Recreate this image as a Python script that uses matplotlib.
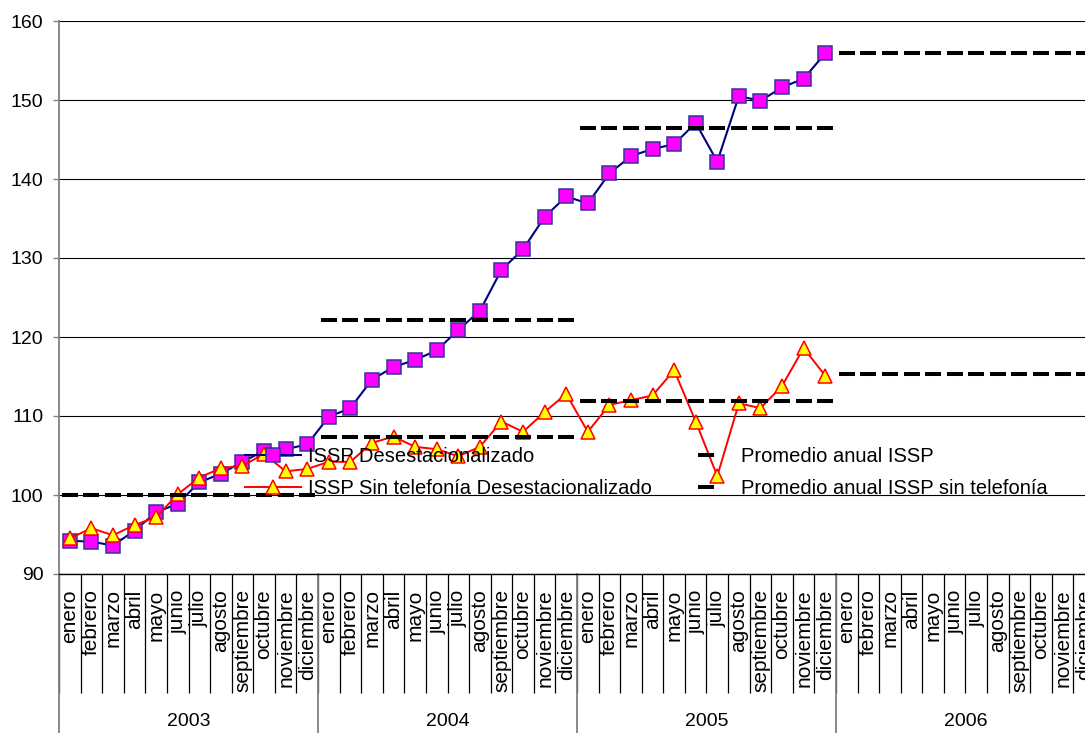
import matplotlib.pyplot as plt
import matplotlib.transforms as mtransforms
import numpy as np

plt.rcParams['font.family'] = ['Liberation Sans', 'DejaVu Sans']

years = ["2003", "2004", "2005", "2006"]
months = ["enero", "febrero", "marzo", "abril", "mayo", "junio", "julio",
          "agosto", "septiembre", "octubre", "noviembre", "diciembre"]

# monthly indices, ene-2003 .. dic-2005
issp = [94.2, 94.1, 93.6, 95.5, 97.8, 98.9, 101.6, 102.7, 104.2, 105.6, 105.8, 106.4,
        109.9, 111.0, 114.6, 116.2, 117.1, 118.3, 120.9, 123.3, 128.5, 131.1, 135.2, 137.8,
        136.9, 140.7, 142.9, 143.8, 144.4, 147.1, 142.2, 150.5, 149.9, 151.6, 152.7, 155.9]
issp_sin_tel = [94.5, 95.8, 94.9, 96.2, 97.2, 100.1, 102.2, 103.4, 103.7, 105.2, 103.0, 103.3,
                104.2, 104.2, 106.6, 107.4, 106.1, 105.8, 104.9, 106.1, 109.3, 108.0, 110.5, 112.8,
                108.0, 111.4, 112.0, 112.6, 115.8, 109.3, 102.4, 111.6, 111.0, 113.8, 118.6, 115.1]

# yearly averages, 2003 .. 2006
prom_issp = [100.0, 122.1, 146.5, 156.0]
prom_sin_tel = [100.0, 107.3, 111.9, 115.3]

n_months = len(years) * len(months)
x_all = np.arange(n_months)
x_data = np.arange(len(issp))

fig = plt.figure(figsize=(10.85, 7.33), dpi=100, facecolor="white")
W, H = 1085, 733
ax = fig.add_axes([59 / W, 159 / H, 1036 / W, 553 / H])

ax.plot(x_data, issp, color="#000080", lw=1.5, marker="s", ms=9.6,
        mfc="#FF00FF", mec="#333399", mew=1.1, zorder=3,
        label="ISSP Desestacionalizado")
ax.plot(x_data, issp_sin_tel, color="#FF0000", lw=1.4, marker="^", ms=10,
        mfc="#FFFF00", mec="#FF0000", mew=1.1, zorder=4,
        label="ISSP Sin telefonía Desestacionalizado")
ax.plot(x_all, np.repeat(prom_issp, 12), ls="none", marker="_", ms=11.5,
        mew=2.9, color="black", zorder=5, label="Promedio anual ISSP")
ax.plot(x_all, np.repeat(prom_sin_tel, 12), ls="none", marker="_", ms=11.5,
        mew=2.9, color="black", zorder=5, label="Promedio anual ISSP sin telefonía")

ax.set_xlim(-0.5, n_months - 0.5)
ax.set_ylim(90, 160)
ax.set_yticks(range(90, 161, 10))
ax.yaxis.grid(True, color="black", lw=0.8)
ax.set_axisbelow(True)
ax.tick_params(axis="y", direction="out", length=4.3, width=1, color="#808080",
               pad=7, labelsize=14)

for s in ["top", "right"]:
    ax.spines[s].set_visible(False)
ax.spines["left"].set_color("#808080")
ax.spines["left"].set_linewidth(1.3)
ax.spines["bottom"].set_color("black")
ax.spines["bottom"].set_linewidth(1)

# month names under each category, separators between them
ax.set_xticks(x_all)
ax.set_xticklabels(months * len(years), rotation=90, fontsize=15)
ax.set_xticks(np.arange(-0.5, n_months, 1), minor=True)
ax.tick_params(axis="x", which="major", length=0, pad=11)
ax.tick_params(axis="x", which="minor", length=85.7, width=0.9, color="black")

# year dividers and labels
trans = mtransforms.blended_transform_factory(ax.transData, ax.transAxes)
for i, yr in enumerate(years):
    x0 = i * 12 - 0.5
    ax.plot([x0, x0], [0, -0.29], color="#808080", lw=1.3, transform=trans,
            clip_on=False)
    ax.text(x0 + 6, -0.2676, yr, transform=trans, ha="center", va="center",
            fontsize=14)

handles, labels = ax.get_legend_handles_labels()
leg_kw = dict(loc="center left", bbox_transform=fig.transFigure, frameon=False,
              borderpad=0, borderaxespad=0, handlelength=2.8, handletextpad=0.35,
              labelspacing=0.65, fontsize=14.5)
leg1 = ax.legend(handles[:2], labels[:2], bbox_to_anchor=(245 / W, 1 - 472.5 / H),
                 **leg_kw)
ax.add_artist(leg1)
ax.legend(handles[2:], labels[2:], bbox_to_anchor=(677.5 / W, 1 - 472.5 / H),
          **leg_kw)

plt.savefig("out.png", dpi=100)
